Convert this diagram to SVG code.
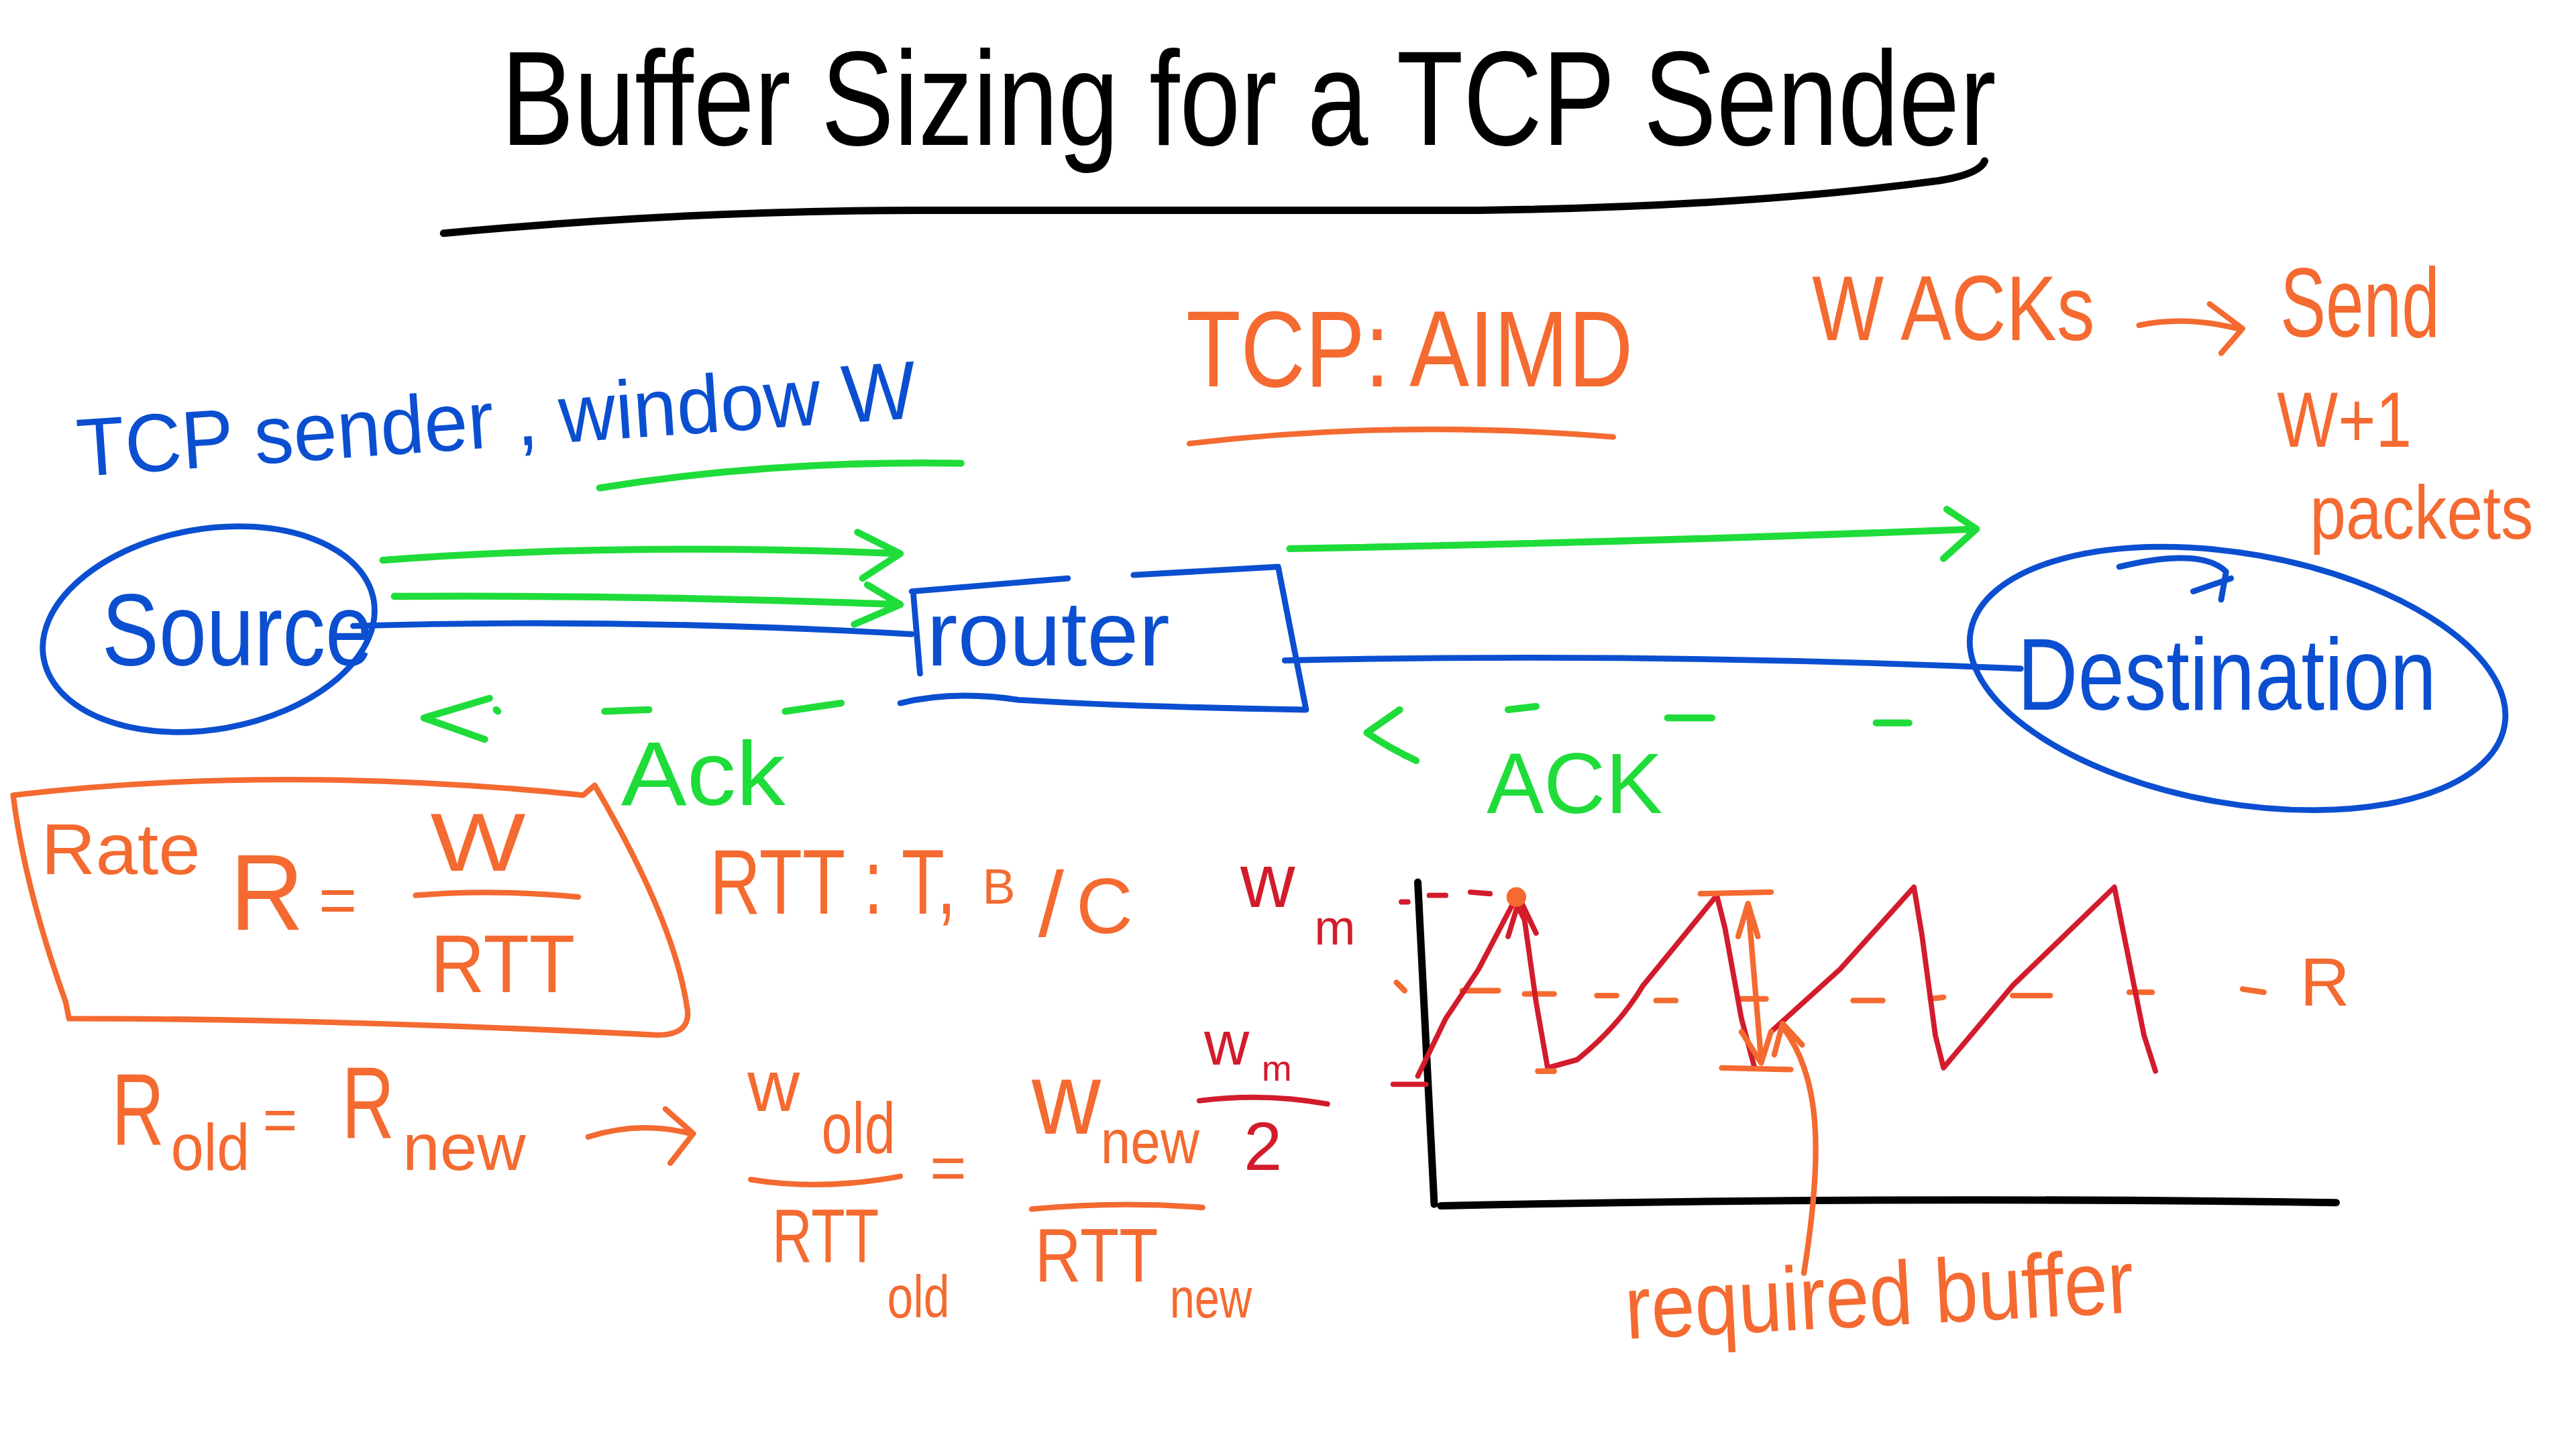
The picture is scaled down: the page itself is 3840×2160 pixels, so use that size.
<svg xmlns="http://www.w3.org/2000/svg" width="3840" height="2160" viewBox="0 0 3840 2160">
<style>
text{font-family:"Liberation Sans","DejaVu Sans",sans-serif}
.k{fill:#000}.b{fill:#0b4fd0}.g{fill:#1fdc3a}.o{fill:#f46a30}.r{fill:#d21c2c}
.sk{fill:none;stroke:#000;stroke-width:4.5;stroke-linecap:round;stroke-linejoin:round}
.sb{fill:none;stroke:#0b4fd0;stroke-width:3.6;stroke-linecap:round;stroke-linejoin:round}
.sg{fill:none;stroke:#1fdc3a;stroke-width:4.2;stroke-linecap:round;stroke-linejoin:round}
.so{fill:none;stroke:#f46a30;stroke-width:3.4;stroke-linecap:round;stroke-linejoin:round}
.sr{fill:none;stroke:#d21c2c;stroke-width:3.2;stroke-linecap:round;stroke-linejoin:round}
</style>
<rect width="3840" height="2160" fill="#fff"/>
<g transform="scale(2.449)">
<g id="title">
<text class="k" x="305" y="88" font-size="82" textLength="910" lengthAdjust="spacingAndGlyphs">Buffer Sizing for a TCP Sender</text>
<path class="sk" d="M270,142 Q420,128 560,128 L900,128 Q1060,126 1180,110 Q1205,106 1208,98"/>
</g>
<g id="sender-label">
<text class="b" x="48" y="290" font-size="50" textLength="512" lengthAdjust="spacingAndGlyphs" transform="rotate(-4 48 290)">TCP sender , window W</text>
<path class="sg" d="M365,297 Q470,280 585,282"/>
</g>
<g id="aimd">
<text class="o" x="722" y="235" font-size="66" textLength="272" lengthAdjust="spacingAndGlyphs">TCP: AIMD</text>
<path class="so" d="M724,270 Q850,255 982,266"/>
</g>
<g id="acks-note">
<text class="o" x="1103" y="207" font-size="56" textLength="172" lengthAdjust="spacingAndGlyphs">W ACKs</text>
<path class="so" d="M1302,198 Q1330,192 1362,200 M1345,185 L1365,200 L1352,215"/>
<text class="o" x="1388" y="205" font-size="60" textLength="97" lengthAdjust="spacingAndGlyphs">Send</text>
<text class="o" x="1386" y="272" font-size="48" textLength="82" lengthAdjust="spacingAndGlyphs">W+1</text>
<text class="o" x="1406" y="328" font-size="46" textLength="136" lengthAdjust="spacingAndGlyphs">packets</text>
</g>
<g id="connectors">
<path class="sb" d="M215,381 Q380,376 555,386"/>
<path class="sb" d="M782,402 Q1000,397 1230,407"/>
<path class="sg" d="M233,341 Q380,330 548,337 M522,324 L548,337 L525,352"/>
<path class="sg" d="M240,363 Q390,362 548,368 M528,356 L548,368 L520,380"/>
<path class="sg" d="M785,334 Q1000,330 1203,322 M1185,310 L1203,322 L1183,340"/>
<path class="sg" d="M298,425 L258,437 L295,450 M302,432 L303,433 M368,433 L395,432 M478,433 L512,428"/>
<path class="sg" d="M852,432 L832,446 Q845,455 862,463 M918,432 L935,430 M1015,437 L1042,437 M1142,440 L1162,440"/>
<text class="g" x="378" y="490" font-size="55" textLength="100" lengthAdjust="spacingAndGlyphs">Ack</text>
<text class="g" x="905" y="495" font-size="52" textLength="107" lengthAdjust="spacingAndGlyphs">ACK</text>
</g>
<g id="source">
<ellipse class="sb" cx="127" cy="383" rx="102" ry="61" transform="rotate(-10 127 383)"/>
<text class="b" x="62" y="405" font-size="62" textLength="165" lengthAdjust="spacingAndGlyphs">Source</text>
</g>
<g id="router">
<path class="sb" d="M556,362 L560,410 M555,360 L650,352 M690,350 L778,345 L795,432 Q680,430 620,426 Q580,420 548,428"/>
<text class="b" x="564" y="405" font-size="56" textLength="148" lengthAdjust="spacingAndGlyphs">router</text>
</g>
<g id="destination">
<ellipse class="sb" cx="1362" cy="413" rx="165" ry="76" transform="rotate(10 1362 413)"/>
<path class="sb" d="M1290,345 Q1340,333 1355,348 L1352,365 M1335,360 L1358,352"/>
<text class="b" x="1228" y="432" font-size="62" textLength="255" lengthAdjust="spacingAndGlyphs">Destination</text>
</g>
<g id="rate-box">
<path class="so" d="M8,484 Q170,465 355,484 L362,478 Q410,560 418,612 Q422,630 400,630 Q200,620 42,620 L40,610 Q15,540 8,484 Z"/>
<text class="o" x="25" y="532" font-size="44" textLength="97" lengthAdjust="spacingAndGlyphs">Rate</text>
<text class="o" x="140" y="566" font-size="66" textLength="45" lengthAdjust="spacingAndGlyphs">R</text>
<text class="o" x="194" y="562" font-size="40">=</text>
<path class="so" d="M253,545 Q300,541 352,546"/>
<text class="o" x="262" y="530" font-size="50" textLength="58" lengthAdjust="spacingAndGlyphs">W</text>
<text class="o" x="262" y="604" font-size="50" textLength="88" lengthAdjust="spacingAndGlyphs">RTT</text>
</g>
<g id="rtt">
<text class="o" x="432" y="556" font-size="56" textLength="150" lengthAdjust="spacingAndGlyphs">RTT : T,</text>
<text class="o" x="598" y="550" font-size="30">B</text>
<text class="o" x="632" y="570" font-size="56">/</text>
<text class="o" x="655" y="568" font-size="48">C</text>
</g>
<g id="graph">
<text class="r" x="755" y="552" font-size="46">w</text>
<text class="r" x="800" y="575" font-size="30">m</text>
<path class="sk" d="M863,537 L873,733 M877,734 Q1150,728 1422,732"/>
<path class="so" d="M850,598 L855,603 M890,603 L912,603 M928,605 L946,605 M972,606 L984,606 M1008,609 L1020,609 M1060,608 L1075,608 M1128,609 L1146,609 M1175,608 L1183,607 M1225,606 L1248,606 M1296,604 L1310,604 M1365,602 L1378,604"/>
<text class="o" x="1400" y="612" font-size="42">R</text>
<path class="sr" d="M863,655 L880,620 L900,590 L922,548 L928,560 L935,610 L942,650 L960,645 Q985,625 1000,600 L1045,545 L1050,565 L1060,620 L1068,650 M1078,628 L1120,590 L1165,540 L1170,570 L1178,630 L1183,650 L1225,600 L1287,540 L1295,580 L1305,630 L1312,652"/>
<path class="sr" d="M853,549 L857,549 M870,545 L880,545 M895,543 L907,544 M848,660 L868,660 M918,570 L925,547 L935,568"/>
<circle class="o" cx="923" cy="546" r="6"/>
<path class="so" stroke-width="8" d="M936,652 L946,652 M1035,544 L1078,543 M1048,650 L1090,651"/>
<path class="so" d="M1064,550 L1072,645 M1058,570 L1064,550 L1070,570 M1060,628 L1072,647 L1078,628"/>
<path class="so" d="M1098,775 C1110,700 1108,655 1085,625 M1080,642 L1085,623 L1097,636"/>
<text class="o" x="990" y="815" font-size="55" textLength="310" lengthAdjust="spacingAndGlyphs" transform="rotate(-3 990 815)">required buffer</text>
</g>
<g id="formula">
<text class="o" x="68" y="697" font-size="62" textLength="32" lengthAdjust="spacingAndGlyphs">R</text>
<text class="o" x="104" y="712" font-size="40" textLength="48" lengthAdjust="spacingAndGlyphs">old</text>
<text class="o" x="160" y="694" font-size="36">=</text>
<text class="o" x="208" y="693" font-size="62" textLength="32" lengthAdjust="spacingAndGlyphs">R</text>
<text class="o" x="245" y="712" font-size="40" textLength="75" lengthAdjust="spacingAndGlyphs">new</text>
<path class="so" d="M358,692 Q390,682 420,690 M405,675 L422,690 L408,708"/>
<text class="o" x="455" y="676" font-size="44">w</text>
<text class="o" x="500" y="702" font-size="44" textLength="45" lengthAdjust="spacingAndGlyphs">old</text>
<path class="so" d="M457,718 Q500,725 548,716"/>
<text class="o" x="566" y="724" font-size="38">=</text>
<text class="o" x="470" y="768" font-size="46" textLength="65" lengthAdjust="spacingAndGlyphs">RTT</text>
<text class="o" x="540" y="802" font-size="36" textLength="38" lengthAdjust="spacingAndGlyphs">old</text>
<text class="o" x="628" y="690" font-size="62" textLength="42" lengthAdjust="spacingAndGlyphs">w</text>
<text class="o" x="670" y="708" font-size="38" textLength="60" lengthAdjust="spacingAndGlyphs">new</text>
<path class="so" d="M628,736 Q680,731 732,735"/>
<text class="o" x="630" y="780" font-size="46" textLength="75" lengthAdjust="spacingAndGlyphs">RTT</text>
<text class="o" x="712" y="802" font-size="34" textLength="50" lengthAdjust="spacingAndGlyphs">new</text>
<text class="r" x="733" y="648" font-size="38">w</text>
<text class="r" x="768" y="658" font-size="22">m</text>
<path class="sr" d="M730,670 Q770,665 808,672"/>
<text class="r" x="757" y="712" font-size="42">2</text>
</g>
</g>
</svg>
